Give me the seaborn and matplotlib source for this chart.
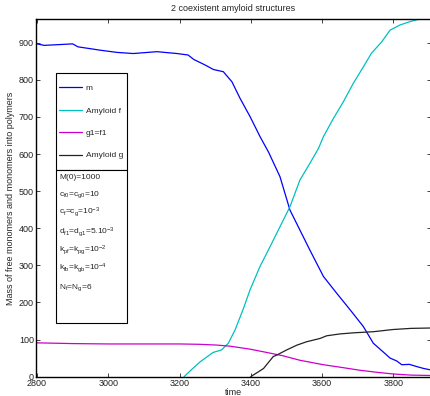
import numpy as np
import pandas as pd
import matplotlib
matplotlib.use('Agg')
import matplotlib.pyplot as plt
import seaborn as sns
from matplotlib.patches import Rectangle

# values
m_time = [2800, 2820, 2860, 2900, 2915, 2950, 2977, 3025, 3070, 3110, 3137, 3170, 3193, 3224, 3240,
          3272, 3295, 3323, 3347, 3370, 3398, 3426, 3450, 3482, 3510, 3538, 3566, 3604, 3641, 3679,
          3716, 3744, 3770, 3791, 3810, 3824, 3845, 3866, 3885, 3905]
m_mass = [897, 893, 895, 897, 889, 884, 880, 874, 871, 874, 876, 873, 871, 867, 855,
          840, 828, 822, 795, 750, 701, 647, 605, 539, 449, 395, 341, 270, 225, 180,
          135, 90, 68, 50, 42, 32, 33, 27, 22, 18]

f_time = [3213, 3235, 3258, 3294, 3318, 3337, 3356, 3380, 3398, 3426, 3454, 3482, 3510, 3538,
          3566, 3590, 3604, 3632, 3660, 3688, 3711, 3739, 3768, 3791, 3819, 3847, 3870, 3905]
f_mass = [0, 20, 40, 65, 72, 90, 126, 185, 234, 297, 350, 404, 458, 530,
          575, 615, 647, 696, 741, 791, 827, 872, 903, 934, 948, 957, 963, 963]

g1_time = [2800, 2900, 3000, 3070, 3200, 3258, 3304, 3342, 3398, 3440, 3491, 3538, 3604, 3660,
           3707, 3760, 3800, 3850, 3905]
g1_mass = [91, 89, 88, 88, 88, 87, 85, 82, 74, 66, 56, 44, 32, 24, 17, 11, 7, 4, 3]

g_time = [3400, 3420, 3436, 3463, 3473, 3501, 3530, 3557, 3595, 3613, 3650, 3688, 3744, 3800, 3850, 3905]
g_mass = [0, 12, 22, 54, 58, 72, 85, 94, 103, 110, 115, 118, 121, 127, 130, 131]

labels = ['m', 'Amyloid f', 'g1=f1', 'Amyloid g']
params = ['M(0)=1000',
          r'c$_{\rm f0}$=c$_{\rm g0}$=10',
          r'c$_{\rm f}$=c$_{\rm g}$=10$^{-3}$',
          r'd$_{\rm f1}$=d$_{\rm g1}$=5.10$^{-3}$',
          r'k$_{\rm pf}$=k$_{\rm pg}$=10$^{-2}$',
          r'k$_{\rm fb}$=k$_{\rm gb}$=10$^{-4}$',
          r'N$_{\rm f}$=N$_{\rm g}$=6']

sns.set_style('ticks')
plt.rcParams['font.family'] = ['Liberation Sans', 'DejaVu Sans']
plt.rcParams['mathtext.fontset'] = 'custom'
plt.rcParams['mathtext.rm'] = 'Liberation Sans'
plt.rcParams['mathtext.it'] = 'Liberation Sans'

fig = plt.figure(figsize=(4.31, 3.96), dpi=100)
ax = fig.add_axes([0.0835, 0.049, 0.9165, 0.902])

sns.lineplot(x=m_time, y=m_mass, ax=ax, color='#0000ff', lw=0.9, label=labels[0])
sns.lineplot(x=f_time, y=f_mass, ax=ax, color='#00c0c0', lw=0.9, label=labels[1])
sns.lineplot(x=g1_time, y=g1_mass, ax=ax, color='#cc00cc', lw=0.9, label=labels[2])
sns.lineplot(x=g_time, y=g_mass, ax=ax, color='#222222', lw=0.9, label=labels[3])

ax.set_xlim(2797, 3906)
ax.set_ylim(0, 963)
ax.set_xticks(np.arange(2800, 3801, 200))
ax.set_yticks(np.arange(0, 901, 100))
ax.tick_params(direction='in', length=3, width=0.6, labelsize=6.5, top=True, right=True,
               colors='#222222', pad=1.5)
for s in ax.spines.values():
    s.set_linewidth(1.0)
    s.set_color('black')

ax.set_title('2 coexistent amyloid structures', fontsize=6.5, pad=6)
ax.set_xlabel('time', fontsize=6.5, labelpad=0)
ax.set_ylabel('Mass of free monomers and monomers into polymers', fontsize=6.5, labelpad=3)

# legend box
ax.add_patch(Rectangle((0.0506, 0.578), 0.18, 0.272, transform=ax.transAxes,
                       fill=True, facecolor='white', edgecolor='black', lw=0.8, zorder=5))
leg = ax.legend(loc='upper left', bbox_to_anchor=(0.058, 0.818), frameon=False,
                fontsize=6, handlelength=2.8, handletextpad=0.4, labelspacing=1.75,
                borderpad=0, borderaxespad=0)
leg.set_zorder(6)

# parameter box
ax.add_patch(Rectangle((0.0506, 0.150), 0.18, 0.428, transform=ax.transAxes,
                       fill=True, facecolor='white', edgecolor='black', lw=0.8, zorder=5))
ys = [0.556, 0.510, 0.459, 0.404, 0.354, 0.302, 0.248]
for y, t in zip(ys, params):
    ax.text(0.058, y, t, transform=ax.transAxes, fontsize=6, va='center', ha='left', zorder=7)

fig.savefig('out.png', dpi=100)
